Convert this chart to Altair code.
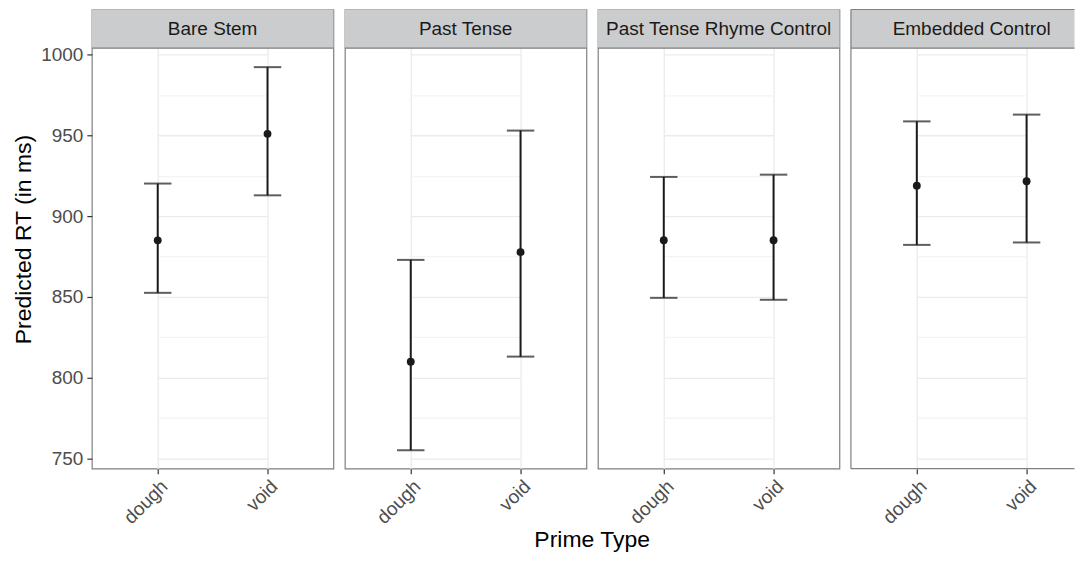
import altair as alt
import pandas as pd

conds = ["Bare Stem", "Past Tense", "Past Tense Rhyme Control", "Embedded Control"]
primes = ["dough", "void"]
cond_col = ["Bare Stem", "Bare Stem", "Past Tense", "Past Tense",
            "Past Tense Rhyme Control", "Past Tense Rhyme Control",
            "Embedded Control", "Embedded Control"]
prime_col = ["dough", "void"] * 4
means = [885.0, 951.0, 809.8, 877.7, 885.1, 885.1, 918.9, 921.6]
lows = [852.5, 912.9, 755.0, 813.0, 849.4, 848.2, 882.2, 883.7]
highs = [920.2, 992.3, 872.9, 953.0, 924.3, 925.7, 958.7, 962.9]
y_ticks = [750, 775, 800, 825, 850, 875, 900, 925, 950, 975, 1000]

df = pd.DataFrame({"cond": cond_col, "prime": prime_col,
                   "mean": means, "lo": lows, "hi": highs})

FONT = "Liberation Sans"
W, H, STRIP = 242, 460, 38.7
W_LAST = 224          # last panel is cut by the picture edge
SPACING = 11.5
INK = "#1a1a1a"
BORDER = "#7f7f7f"
YDOM = [743.6, 1028.0]   # top part of the range is covered by the strip


def panel(idx, cond):
    width = W_LAST if idx == len(conds) - 1 else W
    first = idx == 0
    xenc = alt.X("prime:N", sort=primes, title=None,
                 scale=alt.Scale(type="point", range=[66, 176], padding=0),
                 axis=alt.Axis(labelAngle=-45, labelAlign="right", labelBaseline="top",
                               labelFontSize=19, labelColor="#4d4d4d", labelFont=FONT,
                               tickColor="#333333", tickSize=5, tickWidth=1.2,
                               labelPadding=3, domain=False,
                               grid=True, gridColor="#ebebeb", gridWidth=1.3))
    yscale = alt.Scale(domain=YDOM, nice=False, zero=False)
    common = dict(values=y_ticks, grid=True, gridWidth=1.3, domain=False,
                  gridColor={"expr": "datum.value % 50 === 0 ? '#ebebeb' : '#f4f4f4'"})
    if first:
        yaxis = alt.Axis(title="Predicted RT (in ms)", format="d",
                         titleFontSize=23, titleFont=FONT, titleColor="black",
                         titleFontWeight="normal", titlePadding=5,
                         labelFontSize=19, labelFont=FONT, labelColor="#4d4d4d",
                         labelPadding=4, tickSize=5, tickWidth=1.2, tickColor="#333333",
                         labelExpr="datum.value % 50 === 0 ? datum.label : ''",
                         tickOpacity={"expr": "datum.value % 50 === 0 ? 1 : 0"},
                         **common)
    else:
        yaxis = alt.Axis(title=None, labels=False, ticks=False, **common)

    base = alt.Chart(df).transform_filter(alt.datum.cond == cond).encode(x=xenc)
    one = alt.Chart(df).transform_filter(
        (alt.datum.cond == cond) & (alt.datum.prime == "dough"))

    rule = base.mark_rule(color=INK, strokeWidth=2).encode(
        y=alt.Y("lo:Q", scale=yscale, axis=yaxis), y2="hi:Q")
    cap_lo = base.mark_tick(color=INK, size=27.5, thickness=2).encode(
        y=alt.Y("lo:Q", scale=yscale))
    cap_hi = base.mark_tick(color=INK, size=27.5, thickness=2).encode(
        y=alt.Y("hi:Q", scale=yscale))
    pts = base.mark_point(filled=True, color=INK, size=62, opacity=1).encode(
        y=alt.Y("mean:Q", scale=yscale))

    strip = one.mark_rect(fill="#cbcccd").encode(
        x=alt.value(0), x2=alt.value(width), y=alt.value(0), y2=alt.value(STRIP))
    strip_line = one.mark_rule(color=BORDER, strokeWidth=1.2).encode(
        x=alt.value(0), x2=alt.value(width), y=alt.value(STRIP))
    strip_txt = one.mark_text(font=FONT, fontSize=19, color=INK,
                              baseline="middle", align="center").encode(
        text="cond:N", x=alt.value(W / 2), y=alt.value(STRIP / 2 + 0.5))

    layers = [rule, cap_lo, cap_hi, pts, strip, strip_line, strip_txt]

    if idx == len(conds) - 1:
        b_top = one.mark_rule(color=BORDER, strokeWidth=1.2).encode(
            x=alt.value(0), x2=alt.value(width), y=alt.value(0))
        b_bot = one.mark_rule(color=BORDER, strokeWidth=1.2).encode(
            x=alt.value(0), x2=alt.value(width), y=alt.value(H))
        b_left = one.mark_rule(color=BORDER, strokeWidth=1.2).encode(
            x=alt.value(0), y=alt.value(0), y2=alt.value(H))
        layers += [b_top, b_bot, b_left]
        view = alt.ViewBackground(stroke=None)
    else:
        view = alt.ViewBackground(stroke=BORDER, strokeWidth=1.2)

    if idx == 1:
        xt = one.mark_text(font=FONT, fontSize=23, color="black",
                           baseline="alphabetic", align="center").encode(
            text=alt.value("Prime Type"),
            x=alt.value(W + SPACING / 2), y=alt.value(538))
        layers.append(xt)

    return alt.layer(*layers).properties(width=width, height=H, view=view)


chart = alt.hconcat(*[panel(i, c) for i, c in enumerate(conds)],
                    spacing=SPACING, bounds="flush").resolve_scale(
    x="independent", y="independent"
).properties(
    padding={"left": 4, "top": 0, "right": 0, "bottom": 0}
).configure(background="white")

chart.save("out.html", embed_options={"renderer": "svg", "actions": False})
